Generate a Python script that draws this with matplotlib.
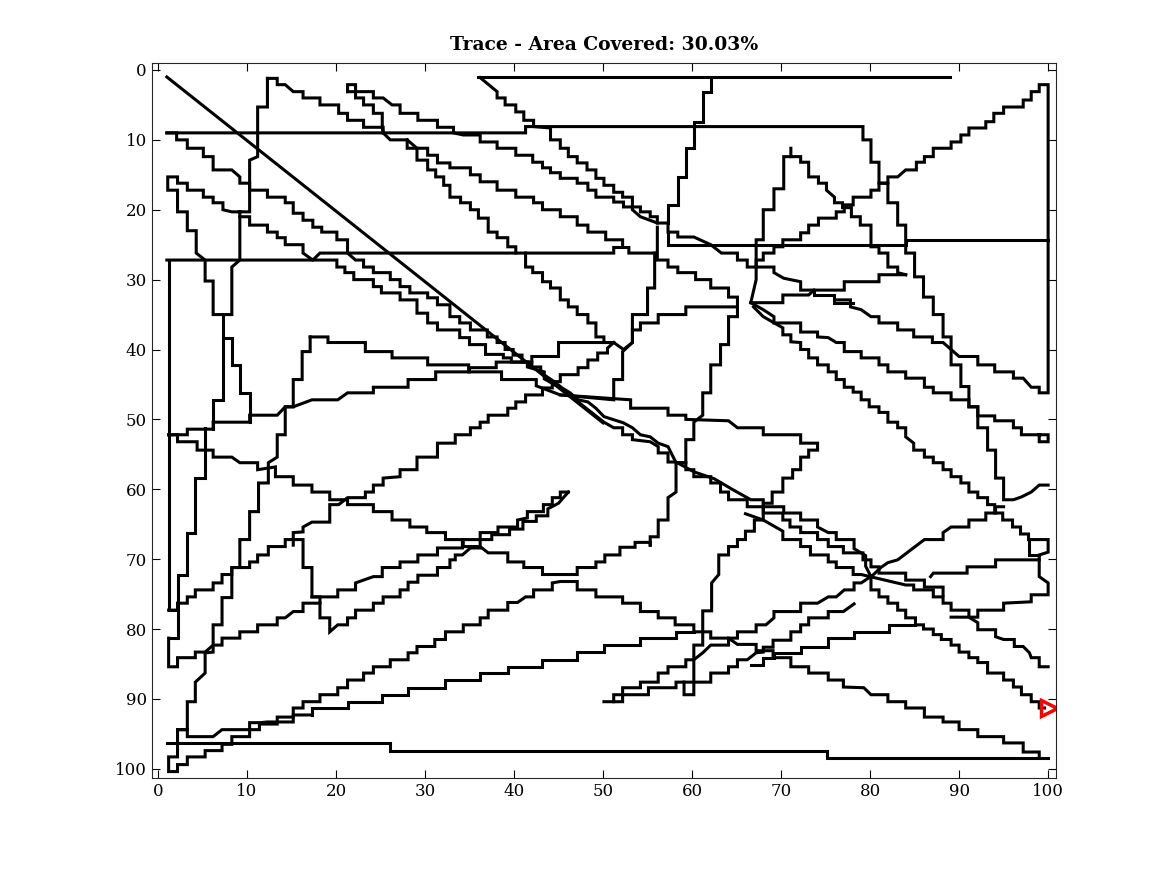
import matplotlib
matplotlib.use("Agg")
import matplotlib.pyplot as plt

# --- trace data (x, y), grouped by region ---
title_text = "Trace - Area Covered: 30.03%"
x_ticks = [0, 10, 20, 30, 40, 50, 60, 70, 80, 90, 100]
y_ticks = [0, 10, 20, 30, 40, 50, 60, 70, 80, 90, 100]
end_point = (100.1, 91.3)

straight_runs = [
    [(1, 1), (50, 50.5)],
    [(36, 1), (89, 1)],
    [(1, 27.2), (17.4, 27.2), (18.2, 26.2), (51.2, 26.2), (51.2, 25.4), (52.9, 25.4), (52.9, 26.2), (55.8, 26.2)],
    [(57.3, 23.2), (57.3, 25), (84, 25), (84, 24.3), (100, 24.3)],
    [(1, 96.3), (26.1, 96.3), (26.1, 97.4), (75.2, 97.4), (75.2, 98.4), (100, 98.4)],
]

upper_bands = [
    [(1, 9), (41.3, 9), (41.3, 8.1), (79.2, 8.1), (79.2, 10), (80.1, 10), (80.1, 13.2), (81, 13.2), (81, 16.2),
     (82, 16.2), (82, 19), (83.1, 19), (83.1, 22.2), (84, 22.2), (84, 26.2), (85, 26.2), (85, 29.6), (86, 29.6),
     (86, 32.5), (87.1, 32.5), (87.1, 35), (88.2, 35), (88.2, 38.2), (89.1, 38.2), (89.1, 42.2), (90.2, 42.2),
     (90.2, 45.3), (91.1, 45.3), (91.1, 48.2), (92.1, 48.2), (92.1, 51.2), (93.2, 51.2), (93.2, 54.4),
     (94.1, 54.4), (94.1, 58.4), (95, 58.4), (95, 61.5), (96.1, 61.5), (97, 61.1), (98.1, 60.4), (99, 59.4),
     (100, 59.4)],
    [(36.2, 1.1), (38.1, 3.1), (38.1, 4), (39, 4), (39, 5), (40.2, 5), (40.2, 6), (41.1, 6), (41.1, 7.2),
     (42.2, 7.2), (42.2, 8.1), (44.1, 8.3), (44.1, 10), (45.2, 10), (45.2, 11.2), (46.1, 11.2), (46.1, 12.4),
     (47.1, 12.4), (47.1, 13.3), (48.2, 13.3), (48.2, 14.3), (49.2, 14.3), (49.2, 15.5), (50.1, 15.5),
     (50.1, 16.5), (51.2, 16.5), (51.2, 17.5), (52.2, 17.5), (52.2, 18.2), (53.3, 18.2), (53.3, 20),
     (54.2, 21), (56.1, 21.9), (57.3, 21.9), (57.3, 23.2), (58.4, 23.2), (58.4, 23.9), (60.2, 23.9),
     (62.1, 25), (63.3, 26.2), (65.1, 26.2), (65.1, 27.2), (66.2, 27.2), (66.2, 28.2), (69.2, 28.2),
     (69.2, 29), (70.3, 29.8), (72.2, 30.3), (72.2, 31.5), (77.1, 31.5), (77.1, 30.3), (81, 30.3),
     (81, 29.3), (84, 29.3)],
    [(62.1, 1.1), (62.1, 3.1), (61.2, 3.1), (61.2, 7.4), (60.2, 7.4), (60.2, 11.2), (59.3, 11.2), (59.3, 15.3),
     (58.4, 15.3), (58.4, 19.3), (57.3, 19.3), (57.3, 21.9)],
    [(56.1, 22.5), (56.1, 27.2), (57.3, 27.2), (57.3, 28.2), (58.4, 28.2), (58.4, 29), (60.4, 29), (60.4, 30),
     (62.1, 30), (62.1, 31.2), (64.1, 31.2), (64.1, 32.5), (65.1, 32.5), (65.1, 35.3), (64.1, 35.3), (64.1, 39.3),
     (63.2, 39.3), (63.2, 42.2), (62.1, 42.2), (62.1, 46.2), (61.2, 46.2), (61.2, 49.4), (60.2, 50.4),
     (60.2, 52.9), (59.3, 52.9), (59.3, 56.2), (58.2, 56.2), (58.2, 60.4), (57.3, 61.2), (57.3, 64.4),
     (56.2, 64.4), (56.2, 66.8), (55.3, 66.8), (55.3, 68)],
    [(55.8, 26.2), (55.8, 31.2), (55, 31.2), (55, 35), (53.3, 35), (53.3, 39), (52.2, 40.3), (52.2, 44.3),
     (51.2, 44.3), (51.2, 47.2), (45.2, 46.5)],
    [(12.3, 1.2), (13.4, 1.2), (13.4, 2.1), (14.3, 2.1), (15.2, 3.1), (16.3, 3.1), (16.3, 4), (18.2, 4), (18.2, 5),
     (20.3, 5), (20.3, 6.2), (21.3, 6.2), (21.3, 7.2), (23.1, 7.2), (23.1, 8.2), (25.3, 8.2), (25.3, 9),
     (26.1, 10), (28, 10), (28, 11.2), (29.1, 11.2), (29.1, 12.9), (30.3, 12.9), (30.3, 14.3), (31.2, 14.3),
     (31.2, 15.3), (32.1, 15.3), (32.1, 16.5), (32.8, 16.5), (32.8, 18.2), (34, 18.2), (34, 19), (35.1, 19),
     (35.1, 20), (36, 20), (36, 21.2), (37.1, 21.2), (37.1, 23.2), (38.1, 23.2), (38.1, 24), (39.3, 24),
     (39.3, 25.3), (40.2, 25.3), (40.2, 26.2)],
    [(21.3, 3.1), (21.3, 2.1), (22.2, 2.1), (22.2, 3.1), (24.2, 3.1), (24.2, 4), (25.3, 4), (26.3, 5), (27.2, 5),
     (27.2, 6.2), (29.2, 6.2), (29.2, 7.2), (31.4, 7.2), (31.4, 8.2), (33.2, 8.2), (33.2, 9), (34.3, 9.3),
     (36.2, 9.3), (36.2, 10.3), (38.1, 10.3), (38.1, 11.2), (40.2, 11.2), (40.2, 12.2), (42.1, 12.2),
     (42.1, 13.2), (43.2, 13.2), (43.2, 14), (44.1, 14), (44.1, 14.7), (45.2, 14.7), (45.2, 15.5), (47.1, 15.5),
     (47.1, 16.2), (48.3, 16.2), (48.3, 17.2), (49.2, 17.2), (49.2, 18.2), (51.2, 18.2), (51.2, 18.9),
     (52.3, 18.9), (52.3, 19.6), (54.2, 19.6), (54.2, 20.3), (55.3, 20.3), (55.3, 21), (56.1, 21), (56.1, 21.9)],
    [(21.3, 3.1), (22.2, 3.1), (22.2, 4), (23.1, 4), (23.1, 5), (24.2, 5), (24.2, 6.2), (25.2, 6.2), (25.2, 8.2),
     (25.3, 9)],
    [(28, 10), (29.1, 11.2), (30.3, 11.2), (30.3, 12.2), (31.4, 12.2), (31.4, 13.3), (32.8, 13.3), (32.8, 14),
     (35.1, 14), (35.1, 15), (36.2, 15), (36.2, 16), (38.1, 16), (38.1, 17.2), (40.2, 17.2), (40.2, 18.2),
     (42.2, 18.2), (42.2, 19), (43.2, 19), (43.2, 20), (45.2, 20), (45.2, 21), (47.1, 21), (47.1, 22.2),
     (48.3, 22.2), (48.3, 23.2), (50.3, 23.2), (50.3, 24.3), (52.2, 24.3), (52.2, 25.4)],
    [(41.3, 26.2), (41.3, 28.2), (42.1, 28.2), (42.1, 29), (43.2, 29), (43.2, 30.3), (44.1, 30.3), (44.1, 31.2),
     (45.2, 31.2), (45.2, 32.9), (46.1, 32.9), (46.1, 33.9), (47.1, 33.9), (47.1, 35), (48.3, 35), (48.3, 36.2),
     (49.2, 36.2), (49.2, 38.2), (50.1, 38.2), (50.1, 39), (51.2, 39), (52.3, 40), (53.3, 39), (53.3, 37.2),
     (54.2, 37.2), (54.2, 36.2), (56.2, 36.2), (56.2, 35), (59.3, 35), (59.3, 33.9), (65.1, 33.9)],
]

left_bands = [
    [(12.3, 1.2), (12.3, 5.3), (11.2, 5.3), (11.2, 12.4), (10.3, 12.9), (10.3, 20.3), (9.2, 20.3), (9.2, 27.2),
     (8.3, 28.2), (8.3, 35), (6.2, 35), (6.2, 30.2), (5.3, 30.2), (5.3, 27.2), (4.3, 26.2), (4.3, 23), (3.3, 23),
     (3.3, 20.3), (2.2, 20.3), (2.2, 17.2), (1.1, 17.2), (1.1, 15.3), (2.2, 15.3), (2.2, 16.2), (3.3, 16.2),
     (3.3, 17.2), (5.1, 17.2), (5.1, 18.2), (6.2, 18.2), (6.2, 19), (7.3, 19), (7.3, 20), (8.3, 20.3),
     (9.2, 20.3)],
    [(1, 9), (2.1, 9), (2.1, 10), (3.3, 10), (3.3, 11.2), (5.1, 11.2), (5.1, 12.4), (6.2, 12.4), (6.2, 14.3),
     (8.3, 14.3), (9.2, 15.3), (9.2, 16.2), (10.3, 16.2), (10.3, 17.2), (12.3, 17.2), (12.3, 18.2), (14.3, 18.2),
     (14.3, 19), (15.2, 19), (15.2, 20.5), (16.3, 20.5), (16.3, 21.5), (17.4, 21.5), (17.4, 22.5), (18.4, 22.5),
     (18.4, 23.2), (20.1, 23.2), (20.1, 24.3), (21.3, 24.3), (21.3, 26.2), (22.2, 27.2), (23.1, 27.2),
     (23.1, 28.2), (24.2, 28.2), (24.2, 29), (26.1, 29), (26.1, 30), (27.2, 30), (27.2, 31), (28.3, 31),
     (28.3, 31.9), (30.3, 31.9), (30.3, 32.6), (31.4, 32.6), (31.4, 33.6), (32.8, 33.6), (32.8, 35.3),
     (33.9, 35.3), (33.9, 36.2), (35.1, 36.2), (35.1, 37.2), (37, 37.2), (37, 38.2), (38.1, 38.2), (38.1, 39),
     (39, 39), (39, 40), (39.9, 40), (39.9, 40.8), (40.9, 40.8), (40.9, 41.8), (42, 41.8), (42, 42.5), (43, 42.5),
     (43, 43.3), (44.4, 44.5), (45.4, 45.5), (46.3, 46.2), (47.2, 47.2), (48.3, 47.5), (49.2, 48.4),
     (50.1, 49.6), (52.3, 50.5), (53.3, 51.2), (54.2, 52.2), (55.3, 52.5), (56.2, 53.4), (57.3, 53.9),
     (58.2, 56.2), (59.3, 56.2), (59.3, 57.2), (60.2, 57.2), (60.2, 58.2), (62.1, 58.2), (62.1, 59.1),
     (63.2, 59.1), (63.2, 60.4), (64.1, 60.4), (64.1, 61.5), (66.2, 61.5), (66.2, 62.5), (68, 62.5), (68, 63.4),
     (70.2, 63.4), (70.2, 64.4), (71, 64.4), (71, 65.4), (72.2, 65.4), (72.2, 66.2), (74.1, 66.2), (74.1, 67.2),
     (75.3, 67.2), (75.3, 68.2), (77, 68.2), (77, 69.1), (79.2, 69.1), (79.2, 70.1), (80.1, 70.1), (80.1, 71.1),
     (81, 71.1), (81, 72), (84, 72), (84, 73), (86.1, 73), (86.1, 74), (88.2, 74), (88.2, 75.1)],
    [(9.2, 21), (10.3, 21), (10.3, 22.2), (12.3, 22.2), (12.3, 23.2), (13.4, 23.2), (13.4, 24), (14.3, 24),
     (14.3, 25), (16.3, 25), (16.3, 26.2), (17.4, 27.2), (20.1, 27.2), (20.1, 28.2), (21, 28.2), (21, 29),
     (22, 29), (22, 30), (24.2, 30), (24.2, 31), (25.1, 31), (25.1, 31.9), (27.2, 31.9), (27.2, 32.9),
     (29.1, 32.9), (29.1, 34.8), (30.3, 34.8), (30.3, 36.2), (31.4, 36.2), (31.4, 37.2), (33.9, 37.2),
     (33.9, 38.3), (35, 38.3), (35, 39.3), (36.8, 39.3), (36.8, 40.7), (38.8, 40.7), (38.8, 41.2), (39.7, 41.2),
     (39.7, 41.8), (41.5, 41.8), (41.5, 42.5), (43.4, 43.2), (43.4, 44.2), (45.2, 45.5), (47.2, 47.5),
     (50.1, 50.4), (51.2, 51.2), (52.2, 51.2), (52.2, 52.2), (53.3, 52.2), (53.3, 52.9), (55.3, 53.2),
     (56.2, 53.9), (56.2, 54.8), (57.3, 54.8), (57.3, 56.1), (58.2, 56.1), (60.2, 57.5), (62.5, 58.5),
     (64.5, 60), (66.6, 61.5), (68, 61.5), (68, 62.5), (70.3, 62.5), (70.3, 63.4), (72.2, 63.4), (72.2, 64.4),
     (74.1, 64.4), (74.1, 65.4), (75.3, 66.2), (76.2, 66.2), (76.2, 67.2), (78.2, 67.2), (78.2, 68.5),
     (79.5, 69.5), (79.5, 71), (80.1, 72.5), (80.1, 74.4), (81, 74.4), (81, 75.4), (82, 75.4), (82, 76.3),
     (83.1, 76.3), (83.1, 77.3), (84, 77.3), (84, 78.4), (85.1, 78.4), (85.1, 79.4), (86, 79.4), (86, 80),
     (87.1, 80), (87.1, 80.8), (88, 80.8), (88, 81.5), (89.1, 81.5), (89.1, 82.3), (90, 82.3), (90, 83.3),
     (91.1, 83.3), (91.1, 84.1), (92.1, 84.1), (92.1, 84.8), (93.2, 84.8), (93.2, 86.3), (95, 86.3), (95, 87.3),
     (96.1, 87.3), (96.1, 88.3), (97, 88.3), (97, 89.4), (98.1, 89.4), (98.1, 90.4), (99, 90.4), (99, 91.3),
     (99.6, 91.3)],
    [(7.3, 35), (7.3, 38.3), (8.3, 38.3), (8.3, 42.2), (9.2, 42.2), (9.2, 46.2), (10.3, 46.2), (10.3, 50.4)],
    [(7.3, 38.3), (7.3, 47.2), (6.2, 47.2), (6.2, 51.4)],
    [(1.2, 27.2), (1.2, 77.3), (2.2, 77.3), (2.2, 72.2), (3.3, 72.2), (3.3, 66.2), (4.2, 66.2), (4.2, 58.4),
     (5.3, 58.4), (5.3, 51.2)],
    [(1.2, 52.2), (2.2, 52.2), (2.2, 53.2), (4.4, 53.2), (4.4, 54.4), (6.2, 54.4), (6.2, 55.4), (8.3, 55.4),
     (9.2, 56.2), (11.2, 56.2), (11.2, 57.2), (13.2, 56.8), (13.2, 58.2), (15.2, 58.2), (15.2, 59.4),
     (17.3, 59.4), (17.3, 60.4), (19.3, 60.4), (19.3, 61.5), (21.3, 61.5), (21.3, 62.2), (24.2, 62.2),
     (24.2, 63.2), (26.3, 63.2), (26.3, 64.4), (28.3, 64.4), (28.3, 65.4), (30.2, 65.4), (30.2, 66.2),
     (32.3, 66.2), (32.3, 67.2), (34.3, 67.2), (34.3, 68.2), (36.2, 68.2), (37.1, 69.1), (39.3, 69.1),
     (39.3, 70.4), (41.1, 70.4), (41.1, 71.2), (43.2, 71.2), (43.2, 72.2), (47.1, 72.2), (47.1, 71.2),
     (49.2, 71.2), (49.2, 70.4), (50.2, 70.4), (50.2, 69.4), (51.9, 69.4), (51.9, 68.3), (53.6, 68.3),
     (53.6, 67.6), (55.3, 67.6), (55.3, 68)],
    [(1.2, 52.2), (3.3, 52.2), (3.3, 51.4), (6.2, 51.4), (6.2, 50.4), (10.3, 50.4), (10.3, 49.4), (13.4, 49.4),
     (14.3, 48.2), (15.2, 48.2), (17.3, 47.2), (20.2, 47.2), (21.3, 46.2), (24.2, 46.2), (24.2, 45.4),
     (28.1, 45.4), (28.1, 44.3), (31.2, 44.3), (31.2, 43.2), (35, 43.2), (35, 42.6), (38, 42.6), (38, 41.8),
     (42, 41.8), (42, 41), (45, 41), (45, 39), (51.2, 39)],
]

middle_bands = [
    [(17.1, 38.2), (19.1, 38.2), (19.1, 39), (23.3, 39), (23.3, 40.3), (26.3, 40.3), (26.3, 41.2), (30.3, 41.2),
     (30.3, 42.2), (34.9, 42.2), (34.9, 43.2), (38.6, 43.2), (38.6, 44.3), (42.5, 44.3), (42.5, 45.2),
     (45.2, 46.5), (53.1, 47.2), (53.1, 48.4), (57.3, 48.4), (57.3, 49.4), (59.3, 49.4), (59.3, 50), (64.1, 50.2),
     (65.1, 51.2), (68, 51.2), (68, 52.2), (72.2, 52.2), (72.2, 53.4), (74.1, 53.4), (74.1, 54.4), (73.1, 54.4),
     (73.1, 55.4), (72.2, 55.4), (72.2, 57.2), (71.3, 57.2), (71.3, 58.4), (70.2, 58.4), (70.2, 60.4),
     (69, 60.4), (69, 62), (68, 62), (68, 64.4), (67, 64.4), (67, 66), (66, 66), (66, 67.2), (65.1, 67.2),
     (65.1, 68.2), (64.1, 68.2), (64.1, 69.4), (63, 69.4), (63, 72.2), (62.2, 73.4), (62.2, 77.4),
     (61.2, 77.4), (61.2, 82.3), (60.2, 82.3), (60.2, 89.4), (59.1, 89.4), (59.1, 87.6)],
    [(17.1, 38.2), (17.1, 40.3), (16.2, 40.3), (16.2, 44.3), (15.2, 44.3), (15.2, 48.2), (14.3, 48.2),
     (14.3, 52.2), (13.4, 52.2), (13.4, 55.4), (12.4, 56.2), (12.4, 59.1), (11.3, 59.1), (11.3, 63.2),
     (10.3, 63.2), (10.3, 67.2), (9.2, 67.2), (9.2, 71.2), (8.3, 71.2), (8.3, 75.5), (7.2, 75.5), (7.2, 79.4),
     (6.2, 79.4), (6.2, 83.3), (5.3, 83.4), (5.3, 86.3), (4.2, 87.6), (4.2, 90.4), (3.3, 90.4), (3.3, 94.4),
     (2.2, 94.4), (2.2, 98.3), (1.2, 98.3), (1.2, 100.4), (2.2, 100.4), (2.2, 99.4), (3.3, 99.4), (3.3, 98.3),
     (5.3, 98.3), (5.3, 97.4), (7.2, 97.4), (7.2, 96.5), (8.3, 96.5), (8.3, 95.4), (10.3, 95.4), (10.3, 94.4),
     (11.4, 94.4), (11.4, 93.6), (13.4, 93.6), (13.4, 92.6), (15.2, 92.6), (15.2, 91.3), (16.3, 91.3),
     (16.3, 90.4), (18.2, 90.4), (18.2, 89.4), (20.2, 89.4), (20.2, 88.4), (21.3, 88.4), (21.3, 87.3),
     (23.1, 87.3), (23.1, 86.3), (24.2, 86.3), (24.2, 85.4), (26.1, 85.4), (26.1, 84.4), (28.1, 84.4),
     (28.1, 83.4), (29.1, 83.4), (29.1, 82.5), (31.1, 82.5), (31.1, 81.5), (32.3, 81.5), (32.3, 80.4),
     (34.3, 80.4), (34.3, 79.4), (36.2, 79.4), (36.2, 78.4), (37.1, 78.4), (37.1, 77.3), (39.3, 77.3),
     (39.3, 76.2), (40.4, 76.2), (41.3, 75.4), (42.2, 75.4), (42.2, 74.4), (44.3, 74.4), (44.3, 73.4),
     (45.2, 73.2), (47.1, 73.2), (47.1, 74.4), (49.2, 74.4), (49.2, 75.4), (52.2, 75.4), (52.2, 76.3),
     (54.2, 76.3), (54.2, 77.5), (56.2, 77.5), (56.2, 78.4), (58.1, 78.4), (58.1, 79.4), (60.2, 79.4),
     (60.2, 80.4), (62.1, 80.4), (62.1, 81.3), (64.1, 81.3), (65.1, 82.2), (67.2, 82.2), (67.2, 83.1),
     (69.1, 83.1), (69.1, 84.1), (71.1, 84.1), (71.1, 85.4), (73.1, 85.4), (73.1, 86.3), (75.3, 86.3),
     (75.3, 87.3), (77, 87.3), (77, 88.3), (79.3, 88.4), (80.1, 89.4), (82, 89.4), (82, 90.4), (84, 90.4),
     (84, 91.3), (86.1, 91.3), (86.1, 92.6), (88.2, 92.6), (88.2, 93.3), (90, 93.3), (90, 94.4), (92.1, 94.4),
     (92.1, 95.4), (95, 95.4), (95, 96.3), (97.2, 96.3), (97.2, 97.6), (99, 97.6), (99, 98.4)],
    [(2.2, 94.4), (3.3, 94.4), (3.3, 95.4), (6.2, 95.4), (7.2, 94.4), (10.3, 94.4), (10.3, 93.4), (11.5, 93.4),
     (12.3, 93.3), (14.3, 93.3), (15.2, 93.3), (15.2, 92.3), (17.3, 92.3)],
    [(17.3, 92.3), (17.3, 91.3), (21.3, 91.3), (21.3, 90.4), (25.2, 90.4), (25.2, 89.4), (28.1, 89.4),
     (28.1, 88.4), (32.3, 88.4), (32.3, 87.3), (36.2, 87.3), (36.2, 86.3), (39.3, 86.3), (39.3, 85.4),
     (43.2, 85.4), (43.2, 84.4), (47.1, 84.4), (47.1, 83.3), (50.1, 83.3), (50.1, 82.3), (54.2, 82.3),
     (54.2, 81.3), (58.2, 81.3), (58.2, 80.4), (60.2, 80.4)],
    [(1.2, 77.3), (2.2, 77.3), (2.2, 76.3), (3.3, 76.3), (3.3, 75.4), (4.2, 75.4), (4.2, 74.4), (6.2, 74.4),
     (6.2, 73.4), (7.2, 73.4), (7.2, 72.2), (8.3, 72.2), (8.3, 71.2), (10.3, 71.2), (10.3, 70.4), (11.2, 70.4),
     (11.2, 69.4), (12.4, 69.4), (12.4, 68.2), (14.3, 68.2), (14.3, 67.2), (16.3, 67.2), (16.3, 71.2),
     (17.3, 71.2), (17.3, 75.4), (18.2, 75.4), (18.2, 78.4), (19.3, 78.4), (19.3, 80.4), (20.2, 79.4),
     (21.3, 79.4), (21.3, 78.4), (22.2, 78.4), (22.2, 77.3), (24.2, 77.3), (24.2, 76.3), (25.3, 76.3),
     (25.3, 75.4), (27.2, 75.4), (27.2, 74.4), (28.1, 74.4), (28.1, 73.3), (29.2, 73.3), (29.2, 72.3),
     (31.4, 72.3), (31.4, 71.2), (32.8, 71.2), (32.8, 70.1), (33.4, 70.1), (33.4, 69.4), (34.2, 69.4),
     (35.1, 68.4), (36.2, 68.4), (36.2, 67.2), (37.5, 67.2), (37.5, 66.5), (39.5, 66.5), (39.5, 65.7),
     (41, 65.7), (41, 64.6), (42.5, 64.6), (42.5, 63.8), (43.8, 63.8), (43.8, 62.8), (45, 62), (46.1, 60.4)],
    [(17.3, 75.4), (20.2, 75.4), (20.2, 74.4), (22.2, 74.4), (22.2, 73.4), (24.2, 72.5), (25.2, 72.5),
     (25.2, 71.2), (27.2, 71.2), (27.2, 70.4), (29.2, 70.4), (29.2, 69.4), (31.4, 69.4), (31.4, 68.4),
     (34.2, 68.4), (34.2, 67.2), (36.2, 67.2), (36.2, 66.2), (38.2, 66.2), (38.2, 65.4), (40.4, 65.4),
     (40.4, 64.4), (41.5, 64.1), (41.5, 63.2), (43.3, 63.2), (43.3, 62.2), (44.3, 62.2), (44.3, 61.2),
     (45.2, 61.2), (45.2, 60.4), (46.1, 60.4)],
    [(1.2, 81.3), (1.2, 85.4), (2.2, 85.4), (2.2, 84.1), (4.2, 84.1), (4.2, 83.3), (5.3, 83.3), (6.2, 82.3),
     (7.2, 82.3), (7.2, 81.3), (9.2, 81.3), (9.2, 80.4), (11.2, 80.4), (11.2, 79.4), (13.4, 79.4),
     (13.4, 78.4), (14.3, 78.4), (15.2, 77.5), (16.3, 77.5), (16.3, 76.3), (18.2, 76.3)],
    [(1.2, 81.3), (2.2, 81.3), (2.2, 77.3)],
    [(15.2, 68), (15.2, 66.2), (16.3, 66.1), (16.3, 65.4), (17.3, 64.7), (19.3, 64.7), (19.3, 63.4),
     (19.3, 62.2), (20.3, 62.2), (21.3, 61.2), (23.3, 61.2), (23.3, 60.4), (24.2, 60.4), (24.2, 59.4),
     (25.3, 59.4), (25.3, 58.4), (27.2, 58.2), (27.2, 57.2), (29.1, 57.2), (29.1, 55.4), (31.4, 55.4),
     (31.4, 53.4), (33.4, 53.4), (33.4, 52.2), (35.1, 52.2), (35.1, 51.2), (36.2, 51.2), (36.2, 50.4),
     (37.1, 50.4), (37.1, 49.4), (39.3, 49.4), (39.3, 48.4), (40.2, 48.4), (40.2, 47.5), (41.3, 47.5),
     (41.3, 46.5), (43.2, 46.5), (43.2, 45.5), (44.3, 45.5), (44.3, 44.6), (45.2, 44.6), (45.2, 43.6),
     (47.2, 43.6), (47.2, 42.6), (48.3, 42.6), (48.3, 41.5), (49.4, 41.5), (49.4, 40.5), (50.5, 40.5),
     (50.5, 39.8), (51.2, 39)],
]

right_bands = [
    [(76.2, 32.9), (77.8, 32.9), (77.8, 33.9), (79, 34.3), (80.1, 35.3), (81, 35.3), (81, 36.2), (83.1, 36.2),
     (83.1, 37.2), (84.9, 37.2), (84.9, 38.2), (87, 38.2), (87, 39), (88.2, 39), (89.1, 40), (90, 41), (92.1, 41),
     (92.1, 42.2), (94, 42.2), (94, 43.2), (96.1, 43.2), (96.1, 44.1), (97.2, 44.1), (98.1, 45.4), (99, 45.4),
     (99, 46.2), (100, 46.2), (100, 2.1), (99, 2.1), (99, 3.1), (98.1, 3.1), (98.1, 4.3), (97.2, 4.3),
     (97.2, 5.3), (95, 5.3), (95, 6.2), (93.9, 6.2), (93.9, 7.4), (93, 7.4), (93, 8.3), (91.1, 8.3), (91.1, 9.3),
     (90.2, 9.3), (90.2, 10.3), (89.1, 10.3), (89.1, 11.2), (87.1, 11.2), (87.1, 12.4), (86.1, 12.4),
     (86.1, 13.2), (85.2, 13.2), (85.2, 14.3), (84, 14.3), (83.1, 15.3), (82, 15.3), (82, 16.2), (81, 16.2),
     (81, 17.2), (80.1, 17.2), (80.1, 18.2), (78.1, 18.2), (78.1, 19.3), (77.1, 19.3), (77.1, 20.3),
     (76.2, 20.3), (76.2, 21.2), (74.2, 21.2), (74.2, 22.2), (73.1, 22.2), (73.1, 23.3), (72.2, 23.3),
     (72.2, 24.3), (70.2, 24.3), (70.2, 25.3), (69.2, 25.3), (69.2, 26.2), (68, 26.2), (68, 27.2),
     (67.2, 27.2), (67.2, 28.2)],
    [(71.1, 11.2), (71.1, 12.4), (72.2, 12.4), (72.2, 13.2), (73.1, 13.2), (73.1, 15.3), (74.2, 15.3),
     (74.2, 16.2), (75.1, 16.2), (75.1, 17.2), (76, 18.2), (76, 19), (76.9, 19), (76.9, 19.7), (77.9, 19.7),
     (77.9, 21), (78.9, 21), (78.9, 22.2), (80.1, 22.2), (80.1, 25.3), (81, 25.3), (81, 26.2), (82, 26.2),
     (82, 28.2), (83.1, 28.2), (83.1, 29), (84, 29.3)],
    [(71.1, 12.4), (70.3, 12.4), (70.3, 17), (69.2, 17), (69.2, 20), (68, 20), (68, 24.3), (67.2, 24.3),
     (67.2, 28.2), (67.2, 30), (66.6, 33.3)],
    [(73.7, 31.5), (73.1, 32.2), (70.2, 32.2), (70.2, 33.3), (66.6, 33.3)],
    [(73.7, 31.5), (73.7, 32.2), (76, 32.2), (76, 33.3), (78.1, 33.3)],
    [(66.6, 33.3), (68, 34.3), (69.2, 35.3), (69.2, 36.2), (72.2, 36.2), (72.2, 37.5), (74.1, 37.5),
     (74.1, 38.2), (75.3, 38.3), (76.2, 39), (77.1, 39), (77.1, 40.3), (79, 40.3), (79, 41.2), (81, 41.2),
     (81, 42.2), (82, 42.2), (82, 43.2), (84, 43.2), (84, 44.1), (86.1, 44.1), (86.1, 45.4), (87.1, 45.4),
     (87.1, 46.2), (89.1, 46.2), (89.1, 47.2), (91.1, 47.2), (91.1, 48.2), (92.1, 48.2), (92.1, 49.5),
     (94, 49.5), (94, 50.2), (96.1, 50.2), (96.1, 51.2), (97, 51.2), (97, 52.2), (99, 52.2), (99, 53.2),
     (100, 53.2), (100, 52.2), (99, 52.2)],
    [(66.9, 33.9), (68, 35.3), (70.2, 36.9), (70.2, 37.9), (71.1, 37.9), (71.1, 38.9), (72.2, 39), (72.2, 40),
     (73.1, 40), (73.1, 41.2), (74.1, 41.2), (74.1, 42.2), (75.3, 42.2), (75.3, 43.2), (76.2, 43.2),
     (76.2, 44.3), (77.1, 44.3), (77.1, 45.4), (78.1, 45.4), (78.1, 46.1), (79, 46.1), (79, 47.2), (79.9, 47.2),
     (79.9, 48.2), (81, 48.2), (81, 49), (82, 49), (82, 50.4), (83.1, 50.4), (83.1, 51.2), (84, 51.2),
     (84, 52.5), (84.9, 53.4), (84.9, 54.4), (86.1, 54.4), (86.1, 55.4), (87.1, 55.4), (87.1, 56.2),
     (88.2, 56.2), (88.2, 57.2), (89.1, 57.2), (89.1, 58.2), (90.2, 58.2), (90.2, 59.1), (91.1, 59.1),
     (91.1, 60.4), (92.1, 60.4), (92.1, 61.2), (93.2, 61.2), (93.2, 62.2), (94, 62.2), (94, 63.4),
     (94.9, 63.4), (94.9, 64.4), (96, 64.4), (96, 65.4), (96.9, 65.4), (96.9, 66.4), (97.8, 66.4),
     (97.8, 67.2), (100, 67.2), (100, 69), (99, 69.4), (99, 72.5), (100, 73.4), (100, 75.1), (98.1, 75.1),
     (98.1, 76.1), (95, 76.3), (95, 77.3), (92.1, 77.3), (92.1, 78.3), (89.1, 78.3)],
    [(97.9, 67.2), (97.9, 69.4), (99, 69.4)],
    [(86.8, 72.5), (87.1, 72), (90.9, 72), (90.9, 71.1), (94.1, 71.1), (94.1, 70.1), (99, 70.1)],
]

lower_bands = [
    [(50.1, 90.4), (51.2, 90.4), (51.2, 89.4), (52.2, 89.4), (52.2, 88.4), (54.2, 88.4), (54.2, 87.6),
     (56.2, 87.6), (56.2, 86.3), (57.3, 86.3), (57.3, 85.4), (59.3, 85.4), (59.3, 84.4), (60.2, 84.4),
     (61.2, 83.4), (62.1, 82.3), (64.1, 82.3), (64.1, 81.3), (65.1, 81.3), (65.1, 80.4), (67.2, 80.4),
     (67.2, 79.4), (68.3, 79.4), (69.2, 78.4), (69.2, 77.5), (72.2, 77.5), (72.2, 76.3), (74.1, 76.3),
     (75.3, 75.4), (76.2, 75.4), (77.1, 74.4), (78.2, 74.4), (78.2, 73.4), (79, 73.4), (80.3, 72.3),
     (81.2, 71.2), (82, 70.5), (83.1, 70.1), (86.1, 67.2), (88.2, 67.2), (88.2, 66.2), (89.1, 65.4),
     (91.1, 65.4), (91.1, 64.4), (93, 64.4), (93, 63.4), (94.1, 63.4), (94.1, 62.5), (95, 62.5)],
    [(51.2, 90.4), (52.2, 90.4), (52.2, 89.4), (55.1, 89.4), (55.1, 88.4), (58.2, 88.4), (58.2, 87.6),
     (59.1, 87.6), (61.2, 87.6), (62.1, 87.6), (62.1, 86.3), (64.1, 86.3), (64.1, 85.4), (65.1, 85.4),
     (65.1, 84.4), (66.2, 84.4), (67.2, 83.4), (68, 83.3), (68, 82.6), (69.1, 82.6), (69.1, 81.6),
     (71.1, 81.6), (71.1, 80.4), (72.2, 80.4), (72.2, 79.4), (73.1, 79.4), (73.1, 78.4), (75.3, 78.4),
     (75.3, 77.5), (77, 77.5), (78.2, 76.4)],
    [(66.6, 85.1), (68, 85.1), (68, 84.1), (69.2, 84.1), (69.2, 83.4), (72.2, 83.4), (72.2, 82.5),
     (75.3, 82.5), (75.3, 81.3), (78.2, 81.3), (78.2, 80.4), (82.1, 80.4), (82.1, 79.4), (85.1, 79.4)],
    [(66, 63.5), (68, 64.4), (70.2, 66), (70.2, 67.2), (72.2, 67.2), (72.2, 68.2), (73.3, 68.2), (73.3, 69.4),
     (75.3, 69.4), (75.3, 70.4), (76.2, 70.4), (76.2, 71.2), (78.1, 71.2), (78.1, 72.2), (79, 72.2),
     (84, 73.7), (84.9, 73.7), (84.9, 74.4), (87.1, 74.4), (87.1, 75.4), (88.2, 75.4), (88.2, 76.3),
     (89.1, 76.3), (89.1, 77.3), (91.1, 77.3), (91.1, 78.3), (92.1, 79.1), (92.1, 80.1), (94.1, 80.1),
     (94.1, 81.1), (95, 81.5), (96.2, 81.5), (96.2, 82.5), (97.2, 82.5), (97.9, 83.4), (98.1, 84.1),
     (99, 84.1), (99, 85.4), (100, 85.4)],
]

fig = plt.figure(figsize=(11.67, 8.75), dpi=100)
ax = fig.add_axes([0.13, 0.111, 0.775, 0.817])

for group in [straight_runs, upper_bands, left_bands, middle_bands, right_bands, lower_bands]:
    for path in group:
        xs = [p[0] for p in path]
        ys = [p[1] for p in path]
        ax.plot(xs, ys, color="black", linewidth=2.2, solid_joinstyle="miter")

# end position marker
ax.plot(end_point[0], end_point[1], marker=">", markersize=11, markerfacecolor="none",
        markeredgecolor="red", markeredgewidth=2.5, linestyle="none")

ax.set_xlim(-0.7, 100.9)
ax.set_ylim(101.3, -1.0)
ax.set_xticks(x_ticks)
ax.set_yticks(y_ticks)
ax.tick_params(direction="in", top=True, right=True, length=6, width=0.8, labelsize=12)
for lab in ax.get_xticklabels() + ax.get_yticklabels():
    lab.set_family("DejaVu Serif")
for s in ax.spines.values():
    s.set_linewidth(0.8)
    s.set_color("#262626")
ax.set_title(title_text, fontsize=13.5, fontweight="bold", family="DejaVu Serif", pad=9)

fig.savefig("out.png", dpi=100)
